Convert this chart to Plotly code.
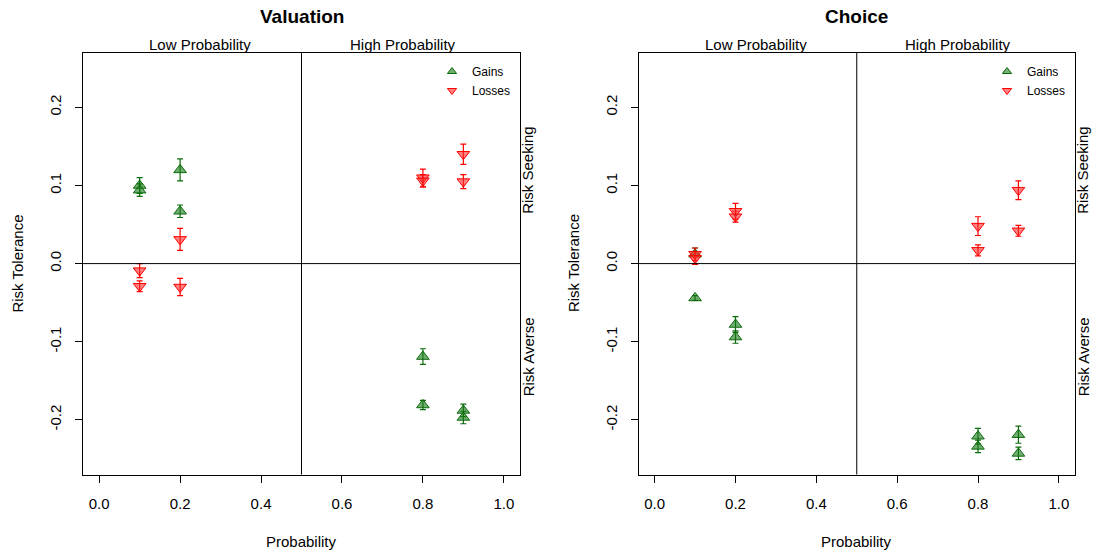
import plotly.graph_objects as go

# ---------------- data ----------------
prob_x = [0.1, 0.1, 0.2, 0.2, 0.8, 0.8, 0.9, 0.9]

val_gain_y = [0.100, 0.094, 0.120, 0.067, -0.119, -0.181, -0.188, -0.197]
val_gain_err = [0.010, 0.008, 0.014, 0.008, 0.010, 0.006, 0.008, 0.008]
val_loss_y = [-0.009, -0.029, 0.031, -0.030, 0.110, 0.106, 0.140, 0.105]
val_loss_err = [0.009, 0.007, 0.014, 0.011, 0.011, 0.008, 0.013, 0.009]

ch_gain_y = [0.012, -0.044, -0.078, -0.094, -0.221, -0.234, -0.219, -0.243]
ch_gain_err = [0.008, 0.003, 0.010, 0.008, 0.010, 0.008, 0.011, 0.008]
ch_loss_y = [0.012, 0.007, 0.067, 0.060, 0.048, 0.017, 0.094, 0.042]
ch_loss_err = [0.008, 0.008, 0.010, 0.007, 0.012, 0.007, 0.012, 0.007]

panel_titles = ["Valuation", "Choice"]
x_ticks = [0.0, 0.2, 0.4, 0.6, 0.8, 1.0]
y_ticks = [-0.2, -0.1, 0.0, 0.1, 0.2]

# the page body margin is removed by a post script, so the figure fills the window
W, H = 1095, 554


def px(p):
    return p / W


def py(p):
    return 1 - p / H


FONT = "Liberation Sans, Arial, sans-serif"
FS = 15
GREEN_LINE = "#0b6b0b"
GREEN_FILL = "rgba(20,120,20,0.6)"
RED_LINE = "#ff0000"
RED_FILL = "rgba(255,40,40,0.6)"

# plot boxes in reference pixels
boxes = [(83, 520), (638.5, 1075)]
box_top, box_bot = 52.7, 474.5

fig = go.Figure()

panels = [
    (val_gain_y, val_gain_err, val_loss_y, val_loss_err),
    (ch_gain_y, ch_gain_err, ch_loss_y, ch_loss_err),
]

for i, (gy, ge, ly, le) in enumerate(panels):
    xa = "x" if i == 0 else "x2"
    ya = "y" if i == 0 else "y2"
    leg = "legend" if i == 0 else "legend2"
    fig.add_trace(go.Scatter(
        x=prob_x, y=gy, mode="markers", xaxis=xa, yaxis=ya, showlegend=False,
        marker=dict(symbol="triangle-up", size=11, color=GREEN_FILL,
                    line=dict(color=GREEN_LINE, width=1)),
        error_y=dict(type="data", array=ge, color=GREEN_LINE, thickness=1.2, width=3),
    ))
    fig.add_trace(go.Scatter(
        x=prob_x, y=ly, mode="markers", xaxis=xa, yaxis=ya, showlegend=False,
        marker=dict(symbol="triangle-down", size=11, color=RED_FILL,
                    line=dict(color=RED_LINE, width=1)),
        error_y=dict(type="data", array=le, color=RED_LINE, thickness=1.2, width=3),
    ))
    # legend entries
    fig.add_trace(go.Scatter(
        x=[None], y=[None], mode="markers", xaxis=xa, yaxis=ya, name="Gains", legend=leg,
        marker=dict(symbol="triangle-up", size=8, color=GREEN_FILL,
                    line=dict(color=GREEN_LINE, width=1)),
    ))
    fig.add_trace(go.Scatter(
        x=[None], y=[None], mode="markers", xaxis=xa, yaxis=ya, name="Losses", legend=leg,
        marker=dict(symbol="triangle-down", size=8, color=RED_FILL,
                    line=dict(color=RED_LINE, width=1)),
    ))

axis_common = dict(
    showline=True, linecolor="black", linewidth=1, mirror=True,
    ticks="outside", ticklen=7, tickwidth=1, tickcolor="black",
    showgrid=False, zeroline=False,
    tickfont=dict(family=FONT, size=FS, color="black"),
)

layout = dict(
    width=W, height=H, margin=dict(l=0, r=0, t=0, b=0),
    paper_bgcolor="white", plot_bgcolor="white",
    font=dict(family=FONT, size=FS, color="black"),
    hovermode=False,
)

ydom = [py(box_bot), py(box_top)]
for i, (x0, x1) in enumerate(boxes):
    sfx = "" if i == 0 else "2"
    layout["xaxis" + sfx] = dict(
        axis_common, domain=[px(x0), px(x1)], range=[-0.04, 1.04],
        tickvals=x_ticks, ticktext=[f"{v:.1f}" for v in x_ticks],
        ticklabelstandoff=8, anchor="y" + sfx,
    )
    layout["yaxis" + sfx] = dict(
        axis_common, domain=ydom, range=[-0.27, 0.27],
        tickvals=y_ticks, ticktext=[f"{v:.1f}" for v in y_ticks],
        tickangle=-90, ticklabelstandoff=8, anchor="x" + sfx,
    )

for i, key in enumerate(["legend", "legend2"]):
    layout[key] = dict(
        x=px(boxes[i][1] - 4), xanchor="right", y=py(57), yanchor="top",
        bgcolor="rgba(0,0,0,0)", font=dict(family=FONT, size=12), itemwidth=30,
        tracegroupgap=0,
    )

fig.update_layout(**layout)

shapes = []
annotations = []
for i, (x0, x1) in enumerate(boxes):
    xr = "x" if i == 0 else "x2"
    yr = "y" if i == 0 else "y2"
    shapes.append(dict(type="line", xref=xr, yref=yr + " domain", x0=0.5, x1=0.5, y0=0, y1=1,
                       line=dict(color="black", width=1)))
    shapes.append(dict(type="line", xref=xr + " domain", yref=yr, x0=0, x1=1, y0=0, y1=0,
                       line=dict(color="black", width=1)))
    cx = px((x0 + x1) / 2)
    annotations.append(dict(text="<b>" + panel_titles[i] + "</b>", xref="paper", yref="paper",
                            x=cx, y=py(17), showarrow=False, xanchor="center", yanchor="middle",
                            font=dict(family=FONT, size=19)))
    annotations.append(dict(text="Low Probability", xref=xr, yref="paper", x=0.25, y=py(44),
                            showarrow=False, xanchor="center", yanchor="middle",
                            font=dict(family=FONT, size=FS)))
    annotations.append(dict(text="High Probability", xref=xr, yref="paper", x=0.75, y=py(44),
                            showarrow=False, xanchor="center", yanchor="middle",
                            font=dict(family=FONT, size=FS)))
    annotations.append(dict(text="Probability", xref="paper", yref="paper", x=cx, y=py(541.5),
                            showarrow=False, xanchor="center", yanchor="middle",
                            font=dict(family=FONT, size=FS)))
    annotations.append(dict(text="Risk Tolerance", xref="paper", yref="paper",
                            x=px(x0 - 65), y=py((box_top + box_bot) / 2), textangle=-90,
                            showarrow=False, xanchor="center", yanchor="middle",
                            font=dict(family=FONT, size=FS)))
    annotations.append(dict(text="Risk Seeking", xref="paper", yref=yr, x=px(x1 + 8), y=0.12,
                            textangle=-90, showarrow=False, xanchor="center", yanchor="middle",
                            font=dict(family=FONT, size=FS)))
    annotations.append(dict(text="Risk Averse", xref="paper", yref=yr, x=px(x1 + 8), y=-0.12,
                            textangle=-90, showarrow=False, xanchor="center", yanchor="middle",
                            font=dict(family=FONT, size=FS)))

fig.update_layout(shapes=shapes, annotations=annotations)
fig.write_html("out.html", config={"displayModeBar": False, "staticPlot": True},
               post_script="document.body.style.margin='0';document.body.style.overflow='hidden';")
